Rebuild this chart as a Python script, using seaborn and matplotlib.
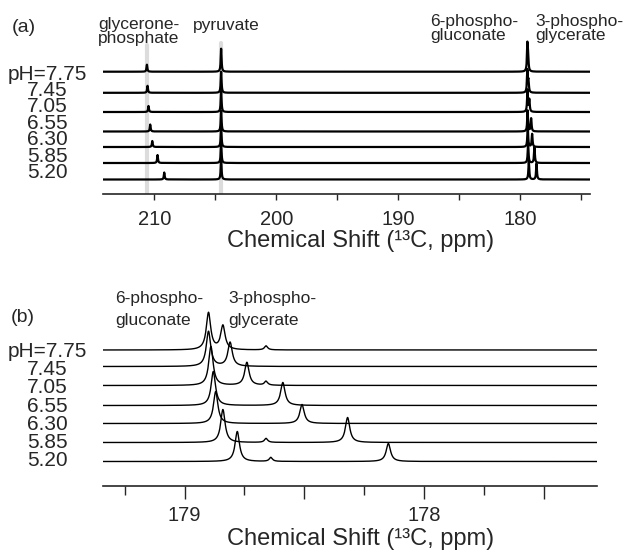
import numpy as np
import pandas as pd
import seaborn as sns
import matplotlib.pyplot as plt
from matplotlib.ticker import MultipleLocator, FuncFormatter

# pH of each spectrum, top to bottom
ph_labels = ["pH=7.75", "7.45", "7.05", "6.55", "6.30", "5.85", "5.20"]

# (a) full carbonyl region: peak positions (ppm) and heights (arb.)
dhap_ppm = [210.60, 210.55, 210.47, 210.33, 210.16, 209.73, 209.18]
dhap_height = [7, 7, 6, 7, 6, 8, 7]
pyruvate_ppm = [204.52, 204.52, 204.52, 204.52, 204.52, 204.52, 204.52]
pyruvate_height = [23, 21, 21, 21, 20, 20, 20]
pg6_ppm_a = [179.43, 179.43, 179.42, 179.41, 179.40, 179.37, 179.31]
pg6_height_a = [26, 22, 22, 21, 20, 20, 19]
pg3_ppm_a = [179.37, 179.34, 179.27, 179.12, 179.04, 178.85, 178.68]
pg3_height_a = [13, 11, 12, 13, 13, 16, 16]

# (b) zoom on the phosphogluconate / phosphoglycerate peaks
pg6_ppm_b = [178.90, 178.90, 178.89, 178.88, 178.87, 178.84, 178.78]
pg6_height_b = [37, 35, 39, 34, 32, 33, 30]
pg3_ppm_b = [178.84, 178.81, 178.74, 178.59, 178.51, 178.32, 178.15]
pg3_height_b = [24, 24, 23, 23, 19, 25, 18]
# small extra bumps seen in (b): trace index, ppm, height
bump_trace = [0, 2, 5, 6]
bump_ppm = [178.66, 178.66, 178.66, 178.64]
bump_height = [4, 4, 4, 4]


def lorentz(x, center, height, hwhm):
    return height / (1 + ((x - center) / hwhm) ** 2)


# vertical offset of each trace (pixels above the axis line) - layout only
offsets_a = [122.6, 101.5, 82.3, 62.8, 47.3, 31.3, 14.8]
offsets_b = [135.5, 119.0, 100.0, 80.0, 62.0, 43.0, 24.0]

xa = np.linspace(174.3, 214.2, 12000)
xb = np.linspace(177.28, 179.34, 3000)

rows_a = []
rows_b = []
for i, lab in enumerate(ph_labels):
    ya = (lorentz(xa, dhap_ppm[i], dhap_height[i], 0.04)
          + lorentz(xa, pyruvate_ppm[i], pyruvate_height[i], 0.04)
          + lorentz(xa, pg6_ppm_a[i], pg6_height_a[i], 0.04)
          + lorentz(xa, pg3_ppm_a[i], pg3_height_a[i], 0.04))
    rows_a.append(pd.DataFrame({"ppm": xa, "y": ya + offsets_a[i], "pH": lab}))
    yb = (lorentz(xb, pg6_ppm_b[i], pg6_height_b[i], 0.011)
          + lorentz(xb, pg3_ppm_b[i], pg3_height_b[i], 0.011))
    for t, p, h in zip(bump_trace, bump_ppm, bump_height):
        if t == i:
            yb = yb + lorentz(xb, p, h, 0.008)
    rows_b.append(pd.DataFrame({"ppm": xb, "y": yb + offsets_b[i], "pH": lab}))
df_a = pd.concat(rows_a)
df_b = pd.concat(rows_b)

sns.set_style("ticks")
plt.rcParams['font.family'] = ['Liberation Sans', 'DejaVu Sans']

W, H = 628, 553
fig = plt.figure(figsize=(W / 100, H / 100), dpi=100)


def box(l, t, r, b):
    return [l / W, 1 - b / H, (r - l) / W, (b - t) / H]


def fxy(x, y):
    return x / W, 1 - y / H


black = ["black"] * len(ph_labels)
xlabel = "Chemical Shift (¹³C, ppm)"

# ---- panel (a)
ax_a = fig.add_axes(box(103, 30, 590, 194.3))
ax_a.axvline(dhap_ppm[0], ymax=0.91, color="#dcdcdc", lw=3, zorder=0)
ax_a.axvline(pyruvate_ppm[0], ymax=0.92, color="#dcdcdc", lw=3, zorder=0)
sns.lineplot(data=df_a, x="ppm", y="y", hue="pH", palette=black, estimator=None,
             legend=False, lw=1.6, ax=ax_a)
ax_a.set_xlim(214.2, 174.3)
ax_a.set_ylim(0, 164.3)
ax_a.xaxis.set_major_locator(MultipleLocator(10))
ax_a.xaxis.set_minor_locator(MultipleLocator(5))
ax_a.tick_params(axis="x", which="both", length=4.5, width=1, direction="out",
                 labelsize=14.5, pad=7)
ax_a.set_xlabel("")

# ---- panel (b)
ax_b = fig.add_axes(box(103, 290, 597, 485.5))
sns.lineplot(data=df_b, x="ppm", y="y", hue="pH", palette=black, estimator=None,
             legend=False, lw=1.0, ax=ax_b)
ax_b.set_xlim(179.34, 177.28)
ax_b.set_ylim(0, 195.5)
ax_b.xaxis.set_major_locator(MultipleLocator(0.5))
ax_b.xaxis.set_minor_locator(MultipleLocator(0.25))
ax_b.xaxis.set_major_formatter(FuncFormatter(lambda v, p: f"{v:.0f}" if abs(v - round(v)) < 1e-6 else ""))
ax_b.tick_params(axis="x", which="major", length=9.5, width=1, labelsize=14.5, pad=5)
ax_b.tick_params(axis="x", which="minor", length=6.5, width=1)
ax_b.set_xlabel("")

for ax in (ax_a, ax_b):
    ax.set_yticks([])
    ax.set_ylabel("")
    sns.despine(ax=ax, left=True)
    ax.spines["bottom"].set_linewidth(1.2)

# axis titles
fig.text(*fxy(361, 246.5), xlabel, ha="center", va="baseline", fontsize=17)
fig.text(*fxy(361, 544.5), xlabel, ha="center", va="baseline", fontsize=17)

# ---- pH labels, one centred block per panel
ph_block = "\n".join(ph_labels)
fig.text(*fxy(47.5, 64.5), ph_block, ha="center", va="top", fontsize=15, linespacing=0.83)
fig.text(*fxy(47.5, 342), ph_block, ha="center", va="top", fontsize=15, linespacing=0.945)

fig.text(*fxy(12, 27), "(a)", ha="left", va="center", fontsize=14)
fig.text(*fxy(11, 318), "(b)", ha="left", va="center", fontsize=14)

# peak names
fig.text(*fxy(98, 17), "glycerone-\nphosphate", ha="left", va="top", fontsize=12.5, linespacing=0.9)
fig.text(*fxy(193, 30), "pyruvate", ha="left", va="baseline", fontsize=12.5)
fig.text(*fxy(430, 14), "6-phospho-\ngluconate", ha="left", va="top", fontsize=12.5, linespacing=0.9)
fig.text(*fxy(535, 14), "3-phospho-\nglycerate", ha="left", va="top", fontsize=12.5, linespacing=0.9)
fig.text(*fxy(115, 291), "6-phospho-\ngluconate", ha="left", va="top", fontsize=12.5, linespacing=1.55)
fig.text(*fxy(228, 291), "3-phospho-\nglycerate", ha="left", va="top", fontsize=12.5, linespacing=1.55)

fig.savefig("out.png", dpi=100)
